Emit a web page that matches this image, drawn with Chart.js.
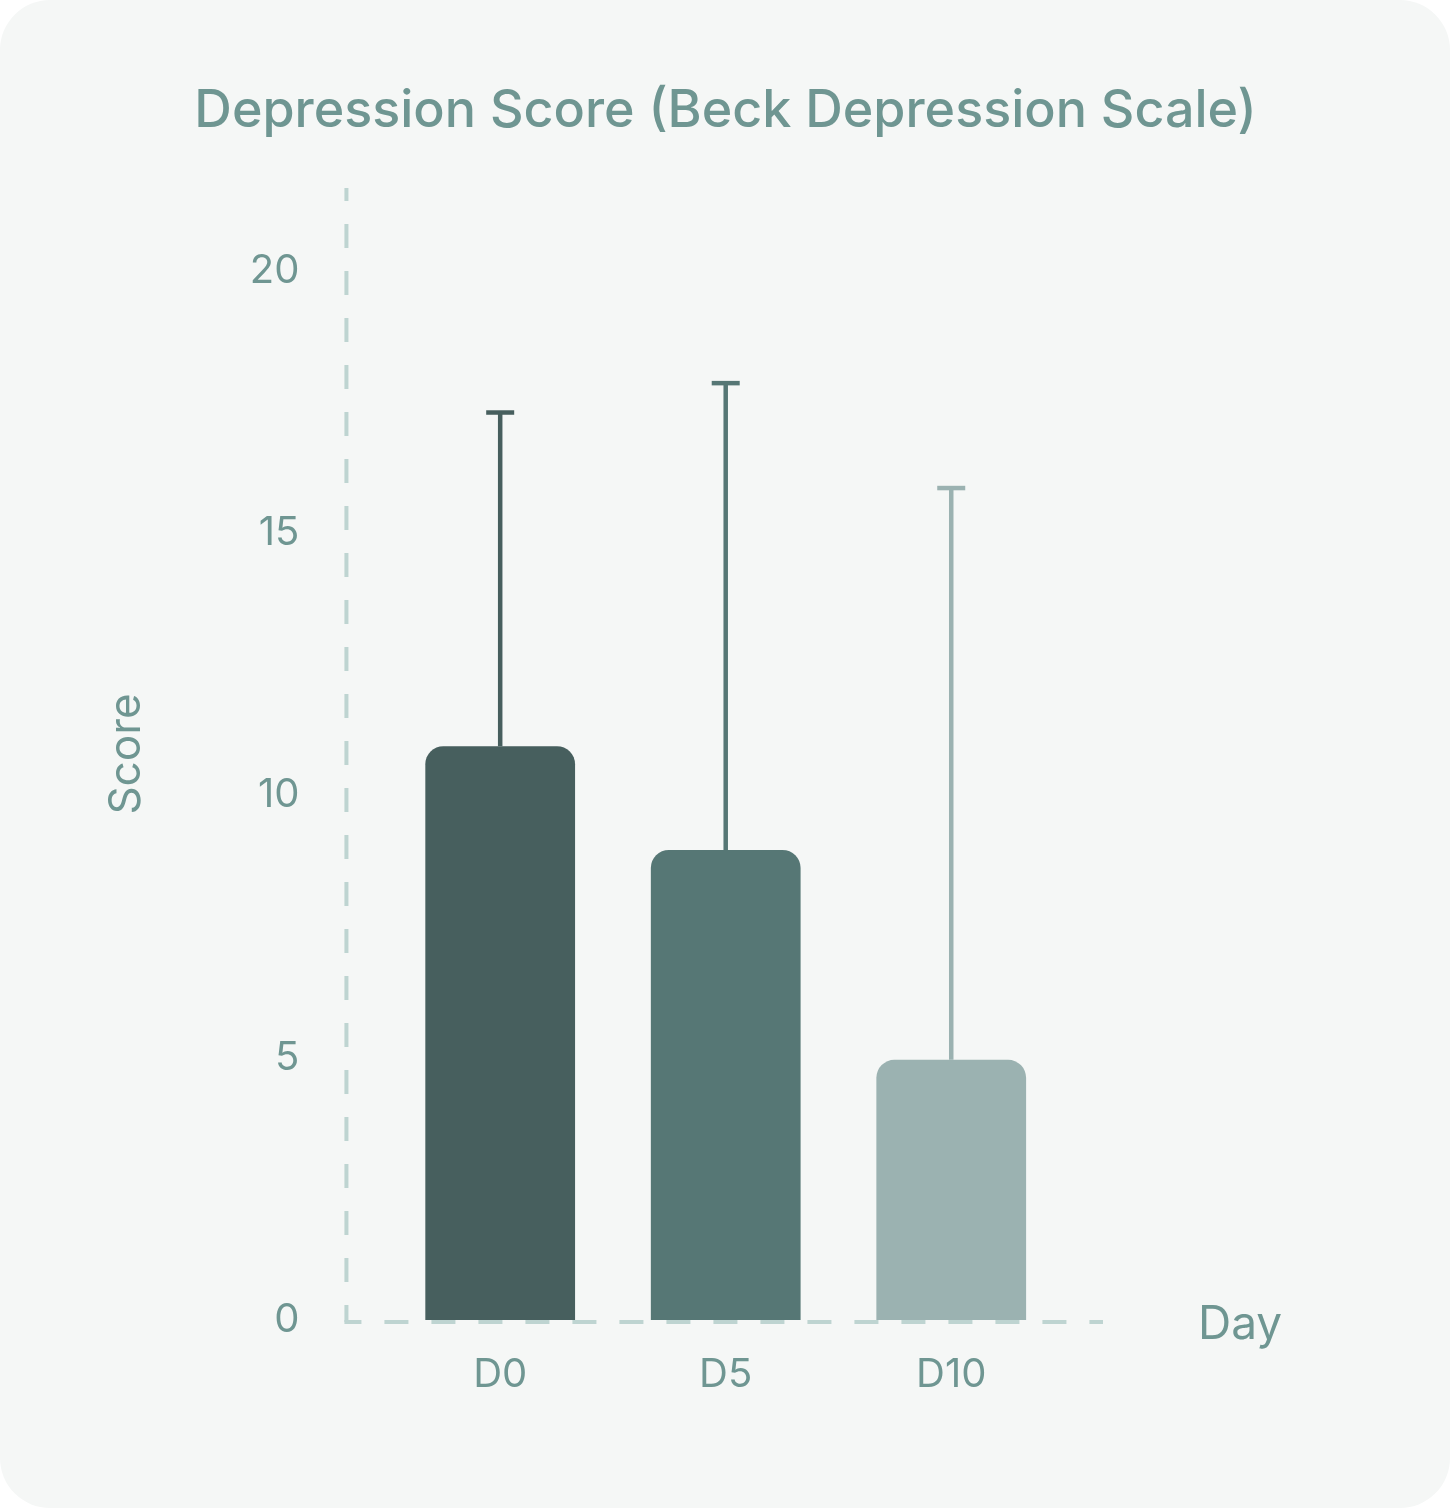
<!DOCTYPE html>
<html>
<head>
<meta charset="utf-8">
<script src="https://cdn.jsdelivr.net/npm/chart.js@4.4.1/dist/chart.umd.min.js"></script>
<style>
  html, body { margin: 0; padding: 0; background: #ffffff; }
  #wrap { position: relative; width: 1451px; height: 1510px; overflow: hidden; }
  #card { position: absolute; left: 0; top: 0; width: 1450px; height: 1508px; background: #f5f7f6; border-radius: 50px; }
  #box { position: absolute; left: 0; top: 0; width: 1451px; height: 1510px; }
</style>
</head>
<body>
<div id="wrap">
  <div id="card"></div>
  <div id="box"><canvas id="c"></canvas></div>
</div>
<script>
const categories = ["D0", "D5", "D10"];
const meanScores = [10.94, 8.96, 4.96];
const upperScores = [17.3, 17.86, 15.86];
const barColors = ["#475f5e", "#567775", "#9bb2b1"];
const yTicks = [0, 5, 10, 15, 20];
const titleText = "Depression Score (Beck Depression Scale)";
const yTitle = "Score";
const xTitle = "Day";

const textColor = "#6f9692";
const axisColor = "#bed4d1";
const FONT = "Inter, 'Noto Sans', sans-serif";

const decorPlugin = {
  id: "decor",
  beforeDatasetsDraw(chart) {
    const { ctx, chartArea } = chart;
    const y = chart.scales.y;
    const y0 = y.getPixelForValue(0) + 2;
    const axX = chartArea.left - 41;
    ctx.save();
    ctx.strokeStyle = axisColor;
    ctx.lineWidth = 4;
    ctx.setLineDash([24, 23]);
    ctx.lineDashOffset = 11;
    ctx.beginPath();
    ctx.moveTo(axX, chartArea.top);
    ctx.lineTo(axX, y0);
    ctx.stroke();
    ctx.lineDashOffset = 7;
    ctx.beginPath();
    ctx.moveTo(axX - 2, y0);
    ctx.lineTo(chartArea.right + 39, y0);
    ctx.stroke();
    ctx.restore();
  },
  afterDraw(chart) {
    const { ctx, chartArea } = chart;
    const y0 = chart.scales.y.getPixelForValue(0);
    ctx.save();
    ctx.fillStyle = textColor;
    ctx.textBaseline = "middle";
    ctx.textAlign = "left";
    ctx.font = "400 46px " + FONT;
    ctx.fillText(xTitle, chartArea.right + 134, y0 + 5);
    ctx.textAlign = "center";
    ctx.font = "500 52px " + FONT;
    ctx.fillText(titleText, chart.width / 2, 111);
    ctx.restore();
  }
};

const errorPlugin = {
  id: "errorBars",
  afterDatasetsDraw(chart) {
    const { ctx } = chart;
    const meta = chart.getDatasetMeta(0);
    const ys = chart.scales.y;
    ctx.save();
    meta.data.forEach((bar, i) => {
      const top = ys.getPixelForValue(upperScores[i]);
      ctx.strokeStyle = barColors[i];
      ctx.lineWidth = 4.5;
      ctx.beginPath();
      ctx.moveTo(bar.x, bar.y);
      ctx.lineTo(bar.x, top);
      ctx.stroke();
      ctx.beginPath();
      ctx.moveTo(bar.x - 14, top);
      ctx.lineTo(bar.x + 14, top);
      ctx.stroke();
    });
    ctx.restore();
  }
};

new Chart(document.getElementById("c"), {
  type: "bar",
  data: {
    labels: categories,
    datasets: [{
      data: meanScores,
      backgroundColor: barColors,
      borderRadius: { topLeft: 18, topRight: 18, bottomLeft: 0, bottomRight: 0 },
      borderSkipped: false,
      barPercentage: 0.664,
      categoryPercentage: 1
    }]
  },
  options: {
    responsive: true,
    maintainAspectRatio: false,
    devicePixelRatio: 1,
    animation: false,
    layout: { padding: { left: 0, right: 387, top: 188, bottom: 80 } },
    plugins: {
      legend: { display: false },
      tooltip: { enabled: false },
      title: { display: false }
    },
    scales: {
      x: {
        grid: { display: false, drawTicks: false },
        border: { display: false },
        ticks: { color: textColor, font: { family: FONT, size: 40, weight: 400 }, padding: 31 }
      },
      y: {
        min: 0,
        max: 21.58,
        afterBuildTicks(scale) { scale.ticks = yTicks.map(v => ({ value: v })); },
        grid: { display: false, drawTicks: false },
        border: { display: false },
        ticks: { color: textColor, font: { family: FONT, size: 40, weight: 400 }, padding: 88 },
        title: {
          display: true,
          text: yTitle,
          color: textColor,
          font: { family: FONT, size: 44, weight: 400, lineHeight: 1.2 },
          padding: { top: 100, bottom: 9 }
        }
      }
    }
  },
  plugins: [decorPlugin, errorPlugin]
});
</script>
</body>
</html>
